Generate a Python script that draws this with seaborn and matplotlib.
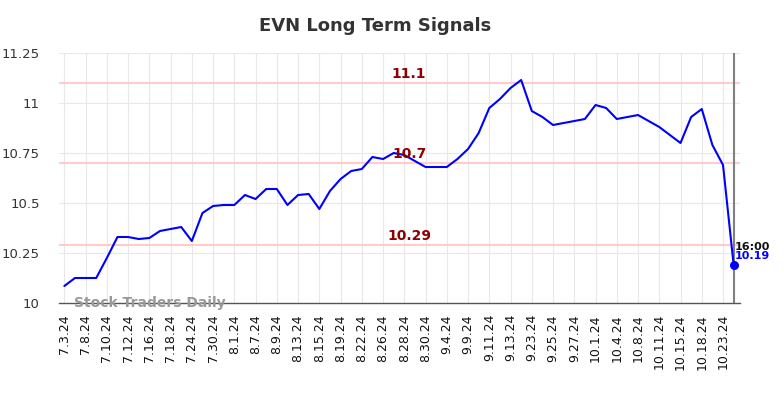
import numpy as np
import pandas as pd
import matplotlib
matplotlib.use("Agg")
import matplotlib.pyplot as plt
import seaborn as sns
from matplotlib.ticker import FuncFormatter

# tick labels (one every second session)
tick_labels = ["7.3.24", "7.8.24", "7.10.24", "7.12.24", "7.16.24", "7.18.24",
               "7.24.24", "7.30.24", "8.1.24", "8.7.24", "8.9.24", "8.13.24",
               "8.15.24", "8.19.24", "8.22.24", "8.26.24", "8.28.24", "8.30.24",
               "9.4.24", "9.9.24", "9.11.24", "9.13.24", "9.23.24", "9.25.24",
               "9.27.24", "10.1.24", "10.4.24", "10.8.24", "10.11.24", "10.15.24",
               "10.18.24", "10.23.24"]

# closing prices
prices = [10.085, 10.125, 10.125, 10.125, 10.225, 10.33, 10.33, 10.32,
          10.325, 10.36, 10.37, 10.38, 10.31, 10.45, 10.485, 10.49,
          10.49, 10.54, 10.52, 10.57, 10.57, 10.49, 10.54, 10.545,
          10.47, 10.56, 10.62, 10.66, 10.67, 10.73, 10.72, 10.75,
          10.74, 10.71, 10.68, 10.68, 10.68, 10.72, 10.77, 10.85,
          10.975, 11.02, 11.075, 11.115, 10.96, 10.93, 10.89, 10.90,
          10.91, 10.92, 10.99, 10.975, 10.92, 10.93, 10.94, 10.91,
          10.88, 10.84, 10.80, 10.93, 10.97, 10.79, 10.69, 10.19]

# signal levels
levels = [11.1, 10.7, 10.29]
last_time = "16:00"

df = pd.DataFrame({"idx": np.arange(len(prices)), "price": prices})

sns.set_style("whitegrid", {"grid.color": "#e8e8e8"})
plt.rcParams['font.family'] = ['DejaVu Sans']

fig = plt.figure(figsize=(7.84, 3.98), dpi=100)
ax = fig.add_axes([0.0753, 0.2387, 0.8686, 0.6281])

for lv in levels:
    ax.axhline(lv, color="#ffcccc", lw=1.5, zorder=1)
    ax.text(32.45, lv + 0.012, f"{lv:g}", color="#8b0000", fontsize=10,
            fontweight="bold", ha="center", va="bottom", zorder=4)

sns.lineplot(data=df, x="idx", y="price", color="#0000ff", lw=1.5, ax=ax, zorder=3)

last = len(prices) - 1
ax.axvline(last, color="#808080", lw=1.5, zorder=2)
ax.scatter([last], [prices[-1]], color="#0000ff", s=30, zorder=5)
ax.text(last + 0.1, prices[-1] + 0.09, last_time, fontsize=8, fontweight="bold",
        color="#111111", ha="left", va="center", zorder=6)
ax.text(last + 0.1, prices[-1] + 0.045, f"{prices[-1]:g}", fontsize=8,
        fontweight="bold", color="#0000ff", ha="left", va="center", zorder=6)

ax.set_xlim(-0.5, 63.6)
ax.set_ylim(10, 11.25)
ax.set_xticks(np.arange(0, len(prices), 2))
ax.set_xticklabels(tick_labels, rotation=90, fontsize=9)
ax.set_yticks([10, 10.25, 10.5, 10.75, 11, 11.25])
ax.yaxis.set_major_formatter(FuncFormatter(lambda v, p: f"{v:g}"))
ax.tick_params(axis="y", labelsize=9.5, colors="#333333", length=0, pad=14)
ax.tick_params(axis="x", colors="#111111", length=0, pad=8)
ax.set_xlabel("")
ax.set_ylabel("")
for s in ["top", "right", "left"]:
    ax.spines[s].set_visible(False)
ax.spines["bottom"].set_color("#555555")
ax.spines["bottom"].set_linewidth(1)

ax.text(0.9, 10.0, "Stock Traders Daily", fontsize=10, fontweight="bold",
        color="#999999", ha="left", va="center", zorder=6)

fig.text(375 / 784, 1 - 26 / 398, "EVN Long Term Signals", fontsize=13,
         fontweight="bold", color="#333333", ha="center", va="center")

fig.savefig("out.png", dpi=100)
